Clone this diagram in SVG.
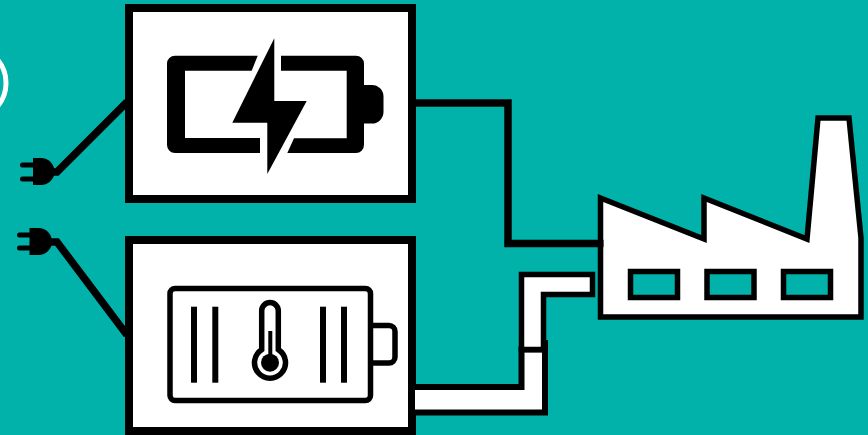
<svg xmlns="http://www.w3.org/2000/svg" width="868" height="435" viewBox="0 0 868 435">
<style>
.box{fill:#fff;stroke:#000;stroke-width:8}
.wire{fill:none;stroke:#000;stroke-width:7.5}
.pipe{fill:#fff;stroke:#000;stroke-miterlimit:10}
.win{fill:#00b2a9;stroke:#000;stroke-width:5.5}
.bar{fill:#000}
.prong{fill:none;stroke:#000;stroke-width:5;stroke-linecap:round}
</style>
<rect width="868" height="435" fill="#00b2a9"/>
<g id="ring"><circle cx="-30" cy="83" r="36" fill="none" stroke="#fff" stroke-width="5"/></g>
<g id="charging-battery">
<rect class="box" x="129" y="8" width="283" height="191"/>
<path d="M257.7 55.7H175a8 8 0 0 0-8 8V145a8 8 0 0 0 8 8H260V138H185V70.7H251.7Z"/>
<path d="M281 55.7H356a8 8 0 0 1 8 8V85H372a11.5 11.5 0 0 1 11.5 11.5V112a11.5 11.5 0 0 1-11.5 11.5H364V145a8 8 0 0 1-8 8H287.3L294 138.3H346.7V70.7H281Z"/>
<polygon points="274.3,38.3 274.3,101 306.7,101 267.3,174 267.3,122.7 232.3,122.7"/>
</g>
<g id="thermal-battery">
<rect class="box" x="129" y="240" width="283" height="191"/>
<rect x="170" y="288.5" width="200.5" height="112" rx="5" fill="none" stroke="#000" stroke-width="5.5"/>
<path d="M370.5 325.5H389a6 6 0 0 1 6 6V357a6 6 0 0 1-6 6H370.5" fill="none" stroke="#000" stroke-width="5.5"/>
<rect class="bar" x="191" y="306.7" width="6" height="76"/>
<rect class="bar" x="212.3" y="306.7" width="6" height="76"/>
<rect class="bar" x="320" y="306.7" width="6" height="76"/>
<rect class="bar" x="341" y="306.7" width="6" height="76"/>
<path d="M261.7 349.6V310.8A8.3 8.3 0 0 1 278.3 310.8V349.6A15.5 15.5 0 1 1 261.7 349.6Z" fill="none" stroke="#000" stroke-width="5.5"/>
<rect x="268.3" y="331" width="4" height="25"/>
<circle cx="270" cy="362.7" r="9"/>
</g>
<g id="factory">
<polygon points="600.5,198 704,239 704,198 807,239 818,118 849,118 861,238 861,317 600.5,317" fill="#fff" stroke="#000" stroke-width="5.5"/>
<rect class="win" x="630.5" y="271.5" width="47" height="26"/>
<rect class="win" x="707" y="271.5" width="47" height="26"/>
<rect class="win" x="783.5" y="271.5" width="47" height="26"/>
</g>
<g id="plug-top">
<path d="M33 158H41A13.5 13.5 0 0 1 41 185H33Z"/>
<path class="prong" d="M22.5 165H33M22.5 179H33"/>
</g>
<g id="plug-bottom">
<path d="M29.5 228H38.5A13.5 13.5 0 0 1 38.5 255H29.5Z"/>
<path class="prong" d="M19.5 235H30M19.5 248H30"/>
</g>
<g id="connectors">
<path class="wire" d="M415 103H508V243.5H603.5"/>
<path class="wire" d="M127 102L57 172H52"/>
<path class="wire" d="M50 242H57L127 335"/>
<polygon class="pipe" stroke-width="6" points="412,387 521.5,387 521.5,349.5 545,349.5 545,412.5 412,412.5"/>
<polygon class="pipe" stroke-width="5.5" points="521.5,349.5 521.5,274.5 592.5,274.5 592.5,294.5 543.5,294.5 543.5,349.5"/>
<rect x="543" y="340" width="5" height="10"/>
</g>
</svg>
